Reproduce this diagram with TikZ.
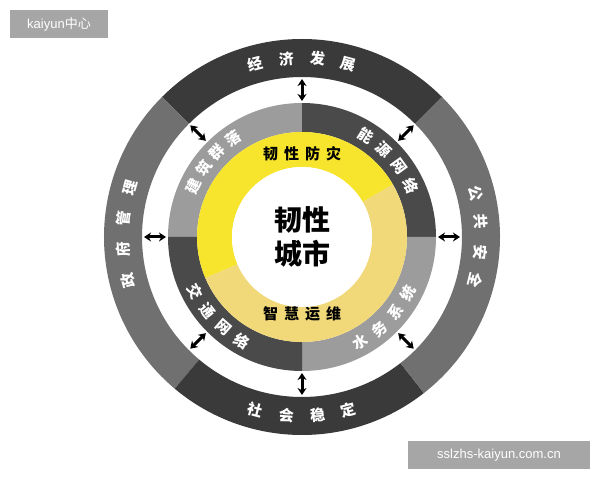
\documentclass[tikz,border=0pt]{standalone}
\usepackage{fontspec}
\setmainfont{Noto Sans CJK SC}
\newfontfamily\lsans{Liberation Sans}
\usetikzlibrary{arrows.meta}
\definecolor{odark}{HTML}{3A3A3A}
\definecolor{ogray}{HTML}{707070}
\definecolor{mlight}{HTML}{9C9C9C}
\definecolor{mdark}{HTML}{4A4A4A}
\definecolor{ybright}{HTML}{F6E52C}
\definecolor{ypale}{HTML}{F1D97A}
\newcommand{\seg}[5]{\fill[#5] (#1:#3pt) arc[start angle=#1,end angle=#2,radius=#3pt] -- (#2:#4pt) arc[start angle=#2,end angle=#1,radius=#4pt] -- cycle;}
\tikzset{
 ch/.style={font=\bfseries\fontsize{15}{15}\selectfont, text=white, inner sep=0pt},
 ych/.style={font=\bfseries\fontsize{15}{15}\selectfont, text=black, inner sep=0pt},
 dbl/.style={{Stealth[length=7pt,width=9pt]}-{Stealth[length=7pt,width=9pt]}, line width=3pt},
 wm/.style={fill=gray!70, text=white, font=\lsans\fontsize{13}{13}\selectfont, inner sep=0pt, minimum height=28pt}
}
\begin{document}
\begin{tikzpicture}[x=1pt,y=1pt]
\useasboundingbox (0,0) rectangle (600,480);
\fill[white] (0,0) rectangle (600,480);
\begin{scope}[shift={(302,243)}]
\seg{45}{135}{198}{160}{odark}
\seg{135}{230}{198}{160}{ogray}
\seg{230}{308}{198}{160}{odark}
\seg{308}{405}{198}{160}{ogray}
\seg{90}{180}{134}{105}{mlight}
\seg{0}{90}{134}{105}{mdark}
\seg{-90}{0}{134}{105}{mlight}
\seg{180}{270}{134}{105}{mdark}
\seg{30}{203}{105}{70}{ybright}
\seg{203}{390}{105}{70}{ypale}
\fill[white] (0,0) circle[radius=70pt];
\foreach \c/\a in {经/105,济/95,发/85,展/75}
  \node[ch,rotate=\a-90] at (\a:179pt) {\c};
\foreach \c/\a in {公/14,共/5,安/-5,全/-14}
  \node[ch,rotate=\a-90] at (\a:179pt) {\c};
\foreach \c/\a in {政/194,府/184,管/174,理/164}
  \node[ch,rotate=\a-90] at (\a:179pt) {\c};
\foreach \c/\a in {社/255,会/265,稳/275,定/285}
  \node[ch,rotate=\a+90] at (\a:179pt) {\c};
\foreach \c/\a in {建/155,筑/145,群/135,落/125}
  \node[ch,rotate=\a-90] at (\a:120pt) {\c};
\foreach \c/\a in {能/58,源/47,网/36,络/25}
  \node[ch,rotate=\a-90] at (\a:120pt) {\c};
\foreach \c/\a in {水/-61,务/-50,系/-39,统/-28}
  \node[ch,rotate=\a+90] at (\a:120pt) {\c};
\foreach \c/\a in {交/207,通/218,网/229,络/240}
  \node[ch,rotate=\a+90] at (\a:120pt) {\c};
\node[ych] (fz) at (0,83) {韧\hspace{6pt}性\hspace{6pt}防\hspace{6pt}灾};
\node[ych] (yw) at (0,-77) {智\hspace{6pt}慧\hspace{6pt}运\hspace{6pt}维};
\node[font=\bfseries\fontsize{28}{34}\selectfont, align=center, inner sep=0pt] (city) at (0,0) {韧性\\城市};
\foreach \a in {0,45,90,135,180,225,270,315}{
  \coordinate (p\a) at (\a:136pt);
  \coordinate (q\a) at (\a:158pt);
  \draw[dbl] (p\a) -- (q\a);
}
\end{scope}
\node[wm, minimum width=98pt] (w1) at (59,456) {kaiyun{\rmfamily 中心}};
\node[wm, minimum width=182pt] (w2) at (499,25) {sslzhs-kaiyun.com.cn};
\end{tikzpicture}
\end{document}
